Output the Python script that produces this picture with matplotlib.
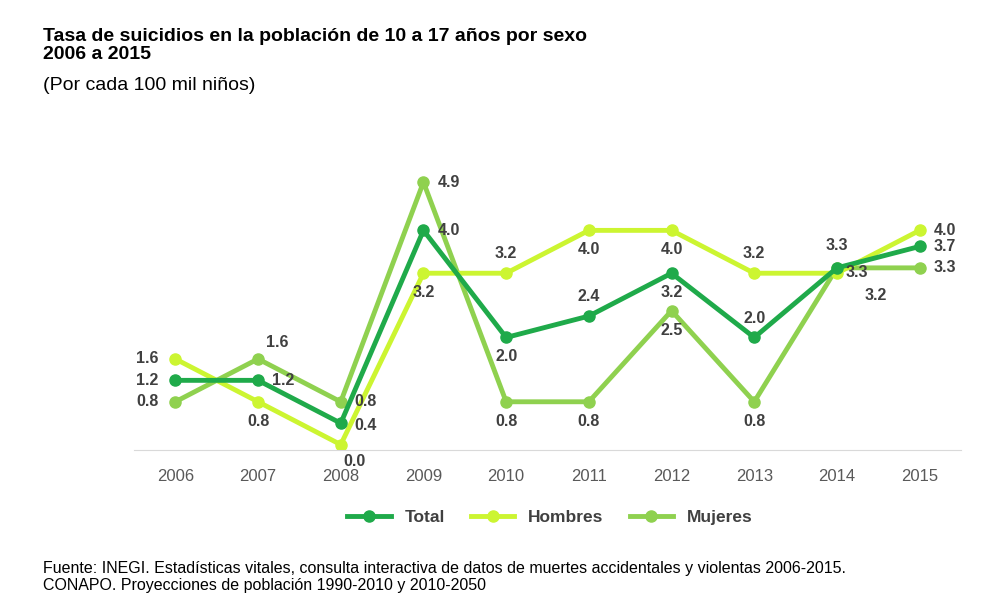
import matplotlib.pyplot as plt

plt.rcParams["font.family"] = ["Liberation Sans", "DejaVu Sans"]

years = ["2006", "2007", "2008", "2009", "2010", "2011", "2012", "2013", "2014", "2015"]
total = [1.2, 1.2, 0.4, 4.0, 2.0, 2.4, 3.2, 2.0, 3.3, 3.7]
hombres = [1.6, 0.8, 0.0, 3.2, 3.2, 4.0, 4.0, 3.2, 3.2, 4.0]
mujeres = [0.8, 1.6, 0.8, 4.9, 0.8, 0.8, 2.5, 0.8, 3.3, 3.3]

# label offsets (points) per point
off_total = [(-20, 0), (18, 0), (18, -2), (18, 0), (0, -14), (0, 14), (0, -14), (0, 14), (0, 16), (18, 0)]
off_h = [(-20, 0), (0, -14), (10, -12), (0, -14), (0, 14), (0, -14), (0, -14), (0, 14), (28, -16), (18, 0)]
off_m = [(-20, 0), (14, 12), (18, 0), (18, 0), (0, -14), (0, -14), (0, -14), (0, -14), (14, -3), (18, 0)]

series = [
    ("Total", total, "#1faa4a", off_total),
    ("Hombres", hombres, "#ccf531", off_h),
    ("Mujeres", mujeres, "#8fd14f", off_m),
]

fig = plt.figure(figsize=(10, 6.04), dpi=100)
ax = fig.add_axes([0.134, 0.255, 0.827, 0.47])
x = list(range(len(years)))
for name, values, color, offs in reversed(series):
    ax.plot(x, values, color=color, linewidth=3.5, marker="o", markersize=8, label=name)
for name, values, color, offs in series:
    for xi, v, (dx, dy) in zip(x, values, offs):
        ax.annotate(f"{v:.1f}", (xi, v), xytext=(dx, dy), textcoords="offset points",
                    ha="center", va="center", fontsize=11.5, fontweight="bold", color="#404040")

ax.set_xlim(-0.5, 9.5)
ax.set_ylim(-0.1, 5.2)
ax.set_xticks(x)
ax.set_xticklabels(years, fontsize=12, color="#595959")
ax.set_yticks([])
for s in ["top", "right", "left"]:
    ax.spines[s].set_visible(False)
ax.spines["bottom"].set_color("#d9d9d9")
ax.tick_params(axis="x", length=0, pad=14)

handles, labels = ax.get_legend_handles_labels()
fig.legend(handles[::-1], labels[::-1], loc="center", bbox_to_anchor=(0.55, 0.143), ncol=3,
           frameon=False, prop={"size": 12.5, "weight": "bold"}, labelcolor="#404040",
           handlelength=2.5, columnspacing=1.5)

fig.text(0.043, 0.925, "Tasa de suicidios en la población de 10 a 17 años por sexo\n2006 a 2015",
         fontsize=14, fontweight="bold", va="center", linespacing=1.1)
fig.text(0.043, 0.858, "(Por cada 100 mil niños)", fontsize=14, va="center")
fig.text(0.043, 0.045, "Fuente: INEGI. Estadísticas vitales, consulta interactiva de datos de muertes accidentales y violentas 2006-2015.\nCONAPO. Proyecciones de población 1990-2010 y 2010-2050",
         fontsize=11.5, va="center", linespacing=1.15)

fig.savefig("out.png", dpi=100)
